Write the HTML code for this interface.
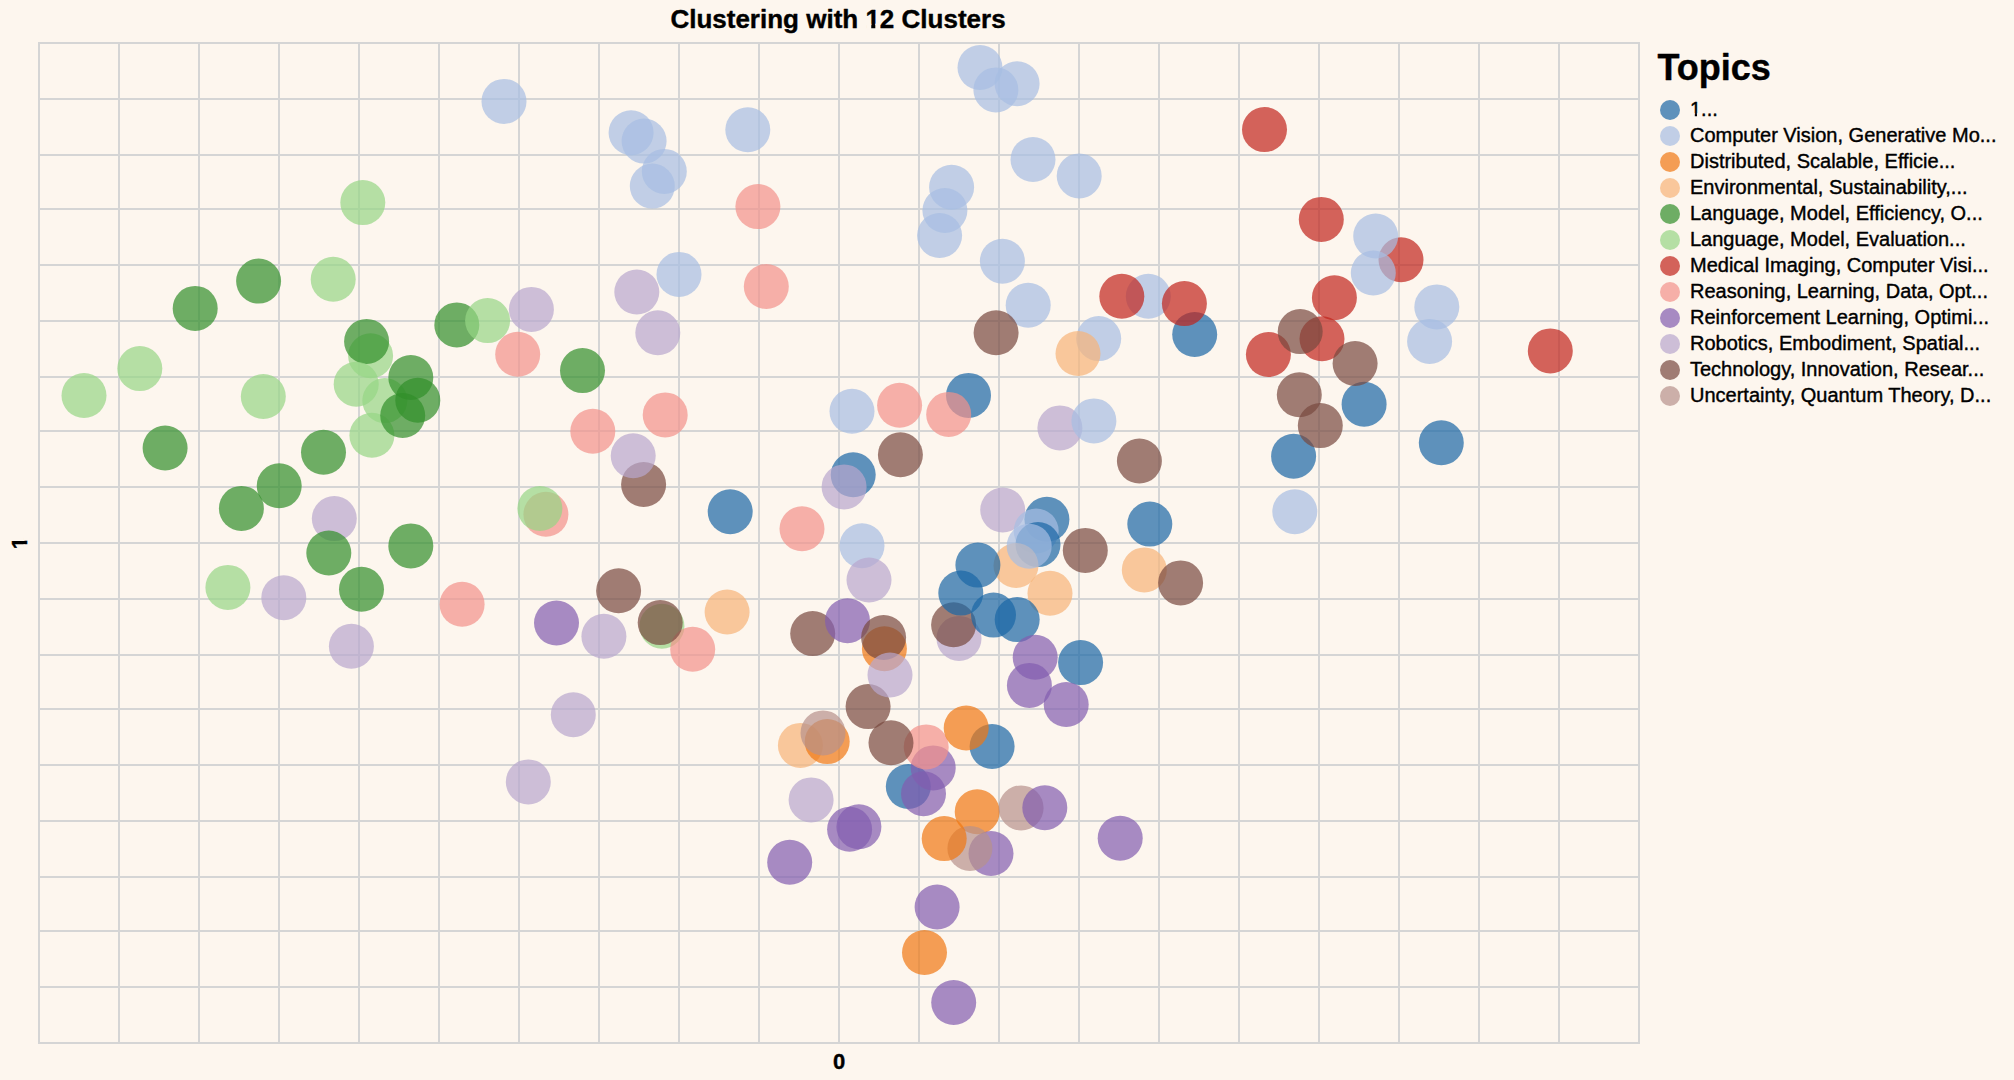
<!DOCTYPE html>
<html><head><meta charset="utf-8"><title>Clustering with 12 Clusters</title>
<style>
html,body{margin:0;padding:0;background:#fdf6ee;}
body{width:2014px;height:1080px;overflow:hidden;}
svg{display:block}
text{font-family:"Liberation Sans",sans-serif;fill:#000;stroke:#000;stroke-width:0.4px;stroke-linejoin:round}
</style></head><body>
<svg width="2014" height="1080" viewBox="0 0 2014 1080">
<rect width="2014" height="1080" fill="#fdf6ee"/>
<g stroke="#d5d5d5" stroke-width="2" fill="none">
<path d="M39 43V1043"/>
<path d="M119 43V1043"/>
<path d="M199 43V1043"/>
<path d="M279 43V1043"/>
<path d="M359 43V1043"/>
<path d="M439 43V1043"/>
<path d="M519 43V1043"/>
<path d="M599 43V1043"/>
<path d="M679 43V1043"/>
<path d="M759 43V1043"/>
<path d="M839 43V1043"/>
<path d="M919 43V1043"/>
<path d="M999 43V1043"/>
<path d="M1079 43V1043"/>
<path d="M1159 43V1043"/>
<path d="M1239 43V1043"/>
<path d="M1319 43V1043"/>
<path d="M1399 43V1043"/>
<path d="M1479 43V1043"/>
<path d="M1559 43V1043"/>
<path d="M1639 43V1043"/>
<path d="M39 43.00H1639"/>
<path d="M39 99.00H1639"/>
<path d="M39 155.00H1639"/>
<path d="M39 209.00H1639"/>
<path d="M39 265.00H1639"/>
<path d="M39 321.00H1639"/>
<path d="M39 377.00H1639"/>
<path d="M39 431.00H1639"/>
<path d="M39 487.00H1639"/>
<path d="M39 543.00H1639"/>
<path d="M39 599.00H1639"/>
<path d="M39 655.00H1639"/>
<path d="M39 709.00H1639"/>
<path d="M39 765.00H1639"/>
<path d="M39 821.00H1639"/>
<path d="M39 877.00H1639"/>
<path d="M39 931.00H1639"/>
<path d="M39 987.00H1639"/>
<path d="M39 1043.00H1639"/>
</g>
<g fill-opacity="0.7">
<circle cx="362.8" cy="202.6" r="22.5" fill="#96d584"/>
<circle cx="258.6" cy="281.1" r="22.5" fill="#318f2a"/>
<circle cx="333.2" cy="279.3" r="22.5" fill="#96d584"/>
<circle cx="195.2" cy="308.4" r="22.5" fill="#318f2a"/>
<circle cx="139.8" cy="368.6" r="22.5" fill="#96d584"/>
<circle cx="84" cy="395.5" r="22.5" fill="#96d584"/>
<circle cx="263.3" cy="396.5" r="22.5" fill="#96d584"/>
<circle cx="165.1" cy="448" r="22.5" fill="#318f2a"/>
<circle cx="323.5" cy="452.3" r="22.5" fill="#318f2a"/>
<circle cx="279.2" cy="485.8" r="22.5" fill="#318f2a"/>
<circle cx="241.4" cy="508.4" r="22.5" fill="#318f2a"/>
<circle cx="334.3" cy="518.6" r="22.5" fill="#b8a7cd"/>
<circle cx="328.8" cy="553" r="22.5" fill="#318f2a"/>
<circle cx="410.8" cy="545.9" r="22.5" fill="#318f2a"/>
<circle cx="370.6" cy="355.8" r="22.5" fill="#96d584"/>
<circle cx="366.6" cy="341.4" r="22.5" fill="#318f2a"/>
<circle cx="356.2" cy="384.2" r="22.5" fill="#96d584"/>
<circle cx="384.8" cy="400.6" r="22.5" fill="#96d584"/>
<circle cx="410.8" cy="377.5" r="22.5" fill="#318f2a"/>
<circle cx="417.8" cy="400.2" r="22.5" fill="#318f2a"/>
<circle cx="371.9" cy="435.3" r="22.5" fill="#96d584"/>
<circle cx="402.7" cy="415.5" r="22.5" fill="#318f2a"/>
<circle cx="227.9" cy="587.4" r="22.5" fill="#96d584"/>
<circle cx="283.8" cy="597.7" r="22.5" fill="#b8a7cd"/>
<circle cx="361.5" cy="589.3" r="22.5" fill="#318f2a"/>
<circle cx="351.4" cy="646.3" r="22.5" fill="#b8a7cd"/>
<circle cx="504" cy="101.4" r="22.5" fill="#a6bee3"/>
<circle cx="631.1" cy="132.7" r="22.5" fill="#a6bee3"/>
<circle cx="644.1" cy="141.1" r="22.5" fill="#a6bee3"/>
<circle cx="664.3" cy="171.4" r="22.5" fill="#a6bee3"/>
<circle cx="652.3" cy="186.1" r="22.5" fill="#a6bee3"/>
<circle cx="747.8" cy="129.8" r="22.5" fill="#a6bee3"/>
<circle cx="757.9" cy="206.6" r="22.5" fill="#f2928a"/>
<circle cx="766.3" cy="286.5" r="22.5" fill="#f2928a"/>
<circle cx="679" cy="274.4" r="22.5" fill="#a6bee3"/>
<circle cx="636.8" cy="292" r="22.5" fill="#b8a7cd"/>
<circle cx="531.4" cy="309.4" r="22.5" fill="#b8a7cd"/>
<circle cx="456.8" cy="324.9" r="22.5" fill="#318f2a"/>
<circle cx="487.6" cy="320.6" r="22.5" fill="#96d584"/>
<circle cx="517.7" cy="354.3" r="22.5" fill="#f2928a"/>
<circle cx="657.8" cy="332.8" r="22.5" fill="#b8a7cd"/>
<circle cx="582.5" cy="370.6" r="22.5" fill="#318f2a"/>
<circle cx="665.2" cy="414.9" r="22.5" fill="#f2928a"/>
<circle cx="592.8" cy="431.3" r="22.5" fill="#f2928a"/>
<circle cx="643.6" cy="484.5" r="22.5" fill="#78493e"/>
<circle cx="633.2" cy="455.8" r="22.5" fill="#b8a7cd"/>
<circle cx="545.9" cy="514.3" r="22.5" fill="#f2928a"/>
<circle cx="539.9" cy="508.5" r="22.5" fill="#96d584"/>
<circle cx="730.2" cy="511.7" r="22.5" fill="#1a67a5"/>
<circle cx="802" cy="528.8" r="22.5" fill="#f2928a"/>
<circle cx="462.1" cy="604.3" r="22.5" fill="#f2928a"/>
<circle cx="556.5" cy="623" r="22.5" fill="#825daf"/>
<circle cx="603.9" cy="636.3" r="22.5" fill="#b8a7cd"/>
<circle cx="618.6" cy="590.8" r="22.5" fill="#78493e"/>
<circle cx="661.9" cy="626.2" r="22.5" fill="#96d584"/>
<circle cx="692.7" cy="649.3" r="22.5" fill="#f2928a"/>
<circle cx="660.2" cy="622.6" r="22.5" fill="#78493e"/>
<circle cx="727.1" cy="612" r="22.5" fill="#f7b377"/>
<circle cx="812.7" cy="633.6" r="22.5" fill="#78493e"/>
<circle cx="573.3" cy="714.7" r="22.5" fill="#b8a7cd"/>
<circle cx="528.3" cy="781.9" r="22.5" fill="#b8a7cd"/>
<circle cx="980" cy="67.5" r="22.5" fill="#a6bee3"/>
<circle cx="995.9" cy="89.9" r="22.5" fill="#a6bee3"/>
<circle cx="1017.1" cy="83.7" r="22.5" fill="#a6bee3"/>
<circle cx="1033" cy="159.5" r="22.5" fill="#a6bee3"/>
<circle cx="1079.2" cy="175.9" r="22.5" fill="#a6bee3"/>
<circle cx="951.6" cy="187.2" r="22.5" fill="#a6bee3"/>
<circle cx="944.9" cy="210.5" r="22.5" fill="#a6bee3"/>
<circle cx="939.6" cy="235.5" r="22.5" fill="#a6bee3"/>
<circle cx="1002.4" cy="261.2" r="22.5" fill="#a6bee3"/>
<circle cx="1028.2" cy="305.2" r="22.5" fill="#a6bee3"/>
<circle cx="996.1" cy="332.8" r="22.5" fill="#78493e"/>
<circle cx="1148.3" cy="296.3" r="22.5" fill="#a6bee3"/>
<circle cx="1121.8" cy="296.3" r="22.5" fill="#c1231b"/>
<circle cx="1194.7" cy="334.5" r="22.5" fill="#1a67a5"/>
<circle cx="1184.4" cy="303.6" r="22.5" fill="#c1231b"/>
<circle cx="1098.7" cy="338.6" r="22.5" fill="#a6bee3"/>
<circle cx="1078" cy="353.5" r="22.5" fill="#f7b377"/>
<circle cx="968.5" cy="395.4" r="22.5" fill="#1a67a5"/>
<circle cx="948.7" cy="414.4" r="22.5" fill="#f2928a"/>
<circle cx="899.6" cy="405.3" r="22.5" fill="#f2928a"/>
<circle cx="852" cy="411.3" r="22.5" fill="#a6bee3"/>
<circle cx="900.4" cy="454.8" r="22.5" fill="#78493e"/>
<circle cx="853.2" cy="474.8" r="22.5" fill="#1a67a5"/>
<circle cx="844.1" cy="486.9" r="22.5" fill="#b8a7cd"/>
<circle cx="1059.9" cy="427.9" r="22.5" fill="#b8a7cd"/>
<circle cx="1093.9" cy="420.9" r="22.5" fill="#a6bee3"/>
<circle cx="1139.4" cy="461" r="22.5" fill="#78493e"/>
<circle cx="1002.7" cy="510" r="22.5" fill="#b8a7cd"/>
<circle cx="1046.9" cy="519.3" r="22.5" fill="#1a67a5"/>
<circle cx="1036.2" cy="531" r="22.5" fill="#a6bee3"/>
<circle cx="1038" cy="544.6" r="22.5" fill="#1a67a5"/>
<circle cx="1149.8" cy="524.1" r="22.5" fill="#1a67a5"/>
<circle cx="862" cy="545.7" r="22.5" fill="#a6bee3"/>
<circle cx="869" cy="580" r="22.5" fill="#b8a7cd"/>
<circle cx="847.5" cy="620.7" r="22.5" fill="#825daf"/>
<circle cx="884.4" cy="648.7" r="22.5" fill="#f07713"/>
<circle cx="883.6" cy="637.5" r="22.5" fill="#78493e"/>
<circle cx="868.1" cy="706.6" r="22.5" fill="#78493e"/>
<circle cx="890" cy="675" r="22.5" fill="#b8a7cd"/>
<circle cx="1016" cy="565.5" r="22.5" fill="#f7b377"/>
<circle cx="1029.2" cy="546.2" r="22.5" fill="#a6bee3"/>
<circle cx="1050" cy="593.3" r="22.5" fill="#f7b377"/>
<circle cx="977.9" cy="565.1" r="22.5" fill="#1a67a5"/>
<circle cx="959" cy="638.4" r="22.5" fill="#b8a7cd"/>
<circle cx="953.6" cy="624.8" r="22.5" fill="#78493e"/>
<circle cx="960.8" cy="593.1" r="22.5" fill="#1a67a5"/>
<circle cx="993.5" cy="615.1" r="22.5" fill="#1a67a5"/>
<circle cx="1017.2" cy="619.6" r="22.5" fill="#1a67a5"/>
<circle cx="1085.3" cy="550.4" r="22.5" fill="#78493e"/>
<circle cx="1035.2" cy="657.3" r="22.5" fill="#825daf"/>
<circle cx="1029.4" cy="685.4" r="22.5" fill="#825daf"/>
<circle cx="1080.6" cy="662.6" r="22.5" fill="#1a67a5"/>
<circle cx="1066.2" cy="704.5" r="22.5" fill="#825daf"/>
<circle cx="800.4" cy="745.4" r="22.5" fill="#f7b377"/>
<circle cx="827.2" cy="741.6" r="22.5" fill="#f07713"/>
<circle cx="823" cy="732.9" r="22.5" fill="#b6918b"/>
<circle cx="908.3" cy="786.5" r="22.5" fill="#1a67a5"/>
<circle cx="933.2" cy="767.9" r="22.5" fill="#825daf"/>
<circle cx="926.2" cy="746.9" r="22.5" fill="#f2928a"/>
<circle cx="891" cy="742.8" r="22.5" fill="#78493e"/>
<circle cx="923.5" cy="793.7" r="22.5" fill="#825daf"/>
<circle cx="992.1" cy="746.5" r="22.5" fill="#1a67a5"/>
<circle cx="966.2" cy="728" r="22.5" fill="#f07713"/>
<circle cx="811.1" cy="799.9" r="22.5" fill="#b8a7cd"/>
<circle cx="849.6" cy="829.3" r="22.5" fill="#825daf"/>
<circle cx="858.9" cy="826.8" r="22.5" fill="#825daf"/>
<circle cx="789.7" cy="862.3" r="22.5" fill="#825daf"/>
<circle cx="977.2" cy="811.8" r="22.5" fill="#f07713"/>
<circle cx="991" cy="853.5" r="22.5" fill="#825daf"/>
<circle cx="969.9" cy="848.4" r="22.5" fill="#b6918b"/>
<circle cx="944.2" cy="838.6" r="22.5" fill="#f07713"/>
<circle cx="1021.1" cy="807.9" r="22.5" fill="#b6918b"/>
<circle cx="1044.8" cy="807.7" r="22.5" fill="#825daf"/>
<circle cx="937.1" cy="907" r="22.5" fill="#825daf"/>
<circle cx="924.5" cy="952.5" r="22.5" fill="#f07713"/>
<circle cx="953.7" cy="1002.5" r="22.5" fill="#825daf"/>
<circle cx="1120.2" cy="838.2" r="22.5" fill="#825daf"/>
<circle cx="1144.3" cy="569.9" r="22.5" fill="#f7b377"/>
<circle cx="1180.6" cy="582.9" r="22.5" fill="#78493e"/>
<circle cx="1293.6" cy="456.2" r="22.5" fill="#1a67a5"/>
<circle cx="1320.3" cy="425.6" r="22.5" fill="#78493e"/>
<circle cx="1299.3" cy="394.8" r="22.5" fill="#78493e"/>
<circle cx="1364.1" cy="404.2" r="22.5" fill="#1a67a5"/>
<circle cx="1441.3" cy="442.8" r="22.5" fill="#1a67a5"/>
<circle cx="1294.8" cy="511.7" r="22.5" fill="#a6bee3"/>
<circle cx="1264.5" cy="129.6" r="22.5" fill="#c1231b"/>
<circle cx="1321.3" cy="219.4" r="22.5" fill="#c1231b"/>
<circle cx="1401" cy="259.8" r="22.5" fill="#c1231b"/>
<circle cx="1375.7" cy="236" r="22.5" fill="#a6bee3"/>
<circle cx="1373.3" cy="273" r="22.5" fill="#a6bee3"/>
<circle cx="1334.4" cy="297.7" r="22.5" fill="#c1231b"/>
<circle cx="1436.8" cy="306.9" r="22.5" fill="#a6bee3"/>
<circle cx="1429.6" cy="341.4" r="22.5" fill="#a6bee3"/>
<circle cx="1322" cy="338.8" r="22.5" fill="#c1231b"/>
<circle cx="1268.4" cy="354.5" r="22.5" fill="#c1231b"/>
<circle cx="1300.2" cy="331.6" r="22.5" fill="#78493e"/>
<circle cx="1355.1" cy="363.5" r="22.5" fill="#78493e"/>
<circle cx="1550.3" cy="350.9" r="22.5" fill="#c1231b"/>
</g>
<rect x="39" y="43" width="1600" height="1000" fill="none" stroke="#d5d5d5" stroke-width="2"/>
<text x="838" y="27.5" text-anchor="middle" font-size="26" font-weight="bold">Clustering with 12 Clusters</text>
<text x="839" y="1069.3" text-anchor="middle" font-size="22" font-weight="bold">0</text>
<text transform="translate(27,543) rotate(-90)" text-anchor="middle" font-size="22" font-weight="bold">1</text>
<text x="1657.5" y="80" font-size="36" font-weight="bold">Topics</text>
<circle cx="1670" cy="110" r="10" fill="#1a67a5" fill-opacity="0.7"/>
<text x="1690" y="116" font-size="20">1...</text>
<circle cx="1670" cy="136" r="10" fill="#a6bee3" fill-opacity="0.7"/>
<text x="1690" y="142" font-size="20">Computer Vision, Generative Mo...</text>
<circle cx="1670" cy="162" r="10" fill="#f07713" fill-opacity="0.7"/>
<text x="1690" y="168" font-size="20">Distributed, Scalable, Efficie...</text>
<circle cx="1670" cy="188" r="10" fill="#f7b377" fill-opacity="0.7"/>
<text x="1690" y="194" font-size="20">Environmental, Sustainability,...</text>
<circle cx="1670" cy="214" r="10" fill="#318f2a" fill-opacity="0.7"/>
<text x="1690" y="220" font-size="20">Language, Model, Efficiency, O...</text>
<circle cx="1670" cy="240" r="10" fill="#96d584" fill-opacity="0.7"/>
<text x="1690" y="246" font-size="20">Language, Model, Evaluation...</text>
<circle cx="1670" cy="266" r="10" fill="#c1231b" fill-opacity="0.7"/>
<text x="1690" y="272" font-size="20">Medical Imaging, Computer Visi...</text>
<circle cx="1670" cy="292" r="10" fill="#f2928a" fill-opacity="0.7"/>
<text x="1690" y="298" font-size="20">Reasoning, Learning, Data, Opt...</text>
<circle cx="1670" cy="318" r="10" fill="#825daf" fill-opacity="0.7"/>
<text x="1690" y="324" font-size="20">Reinforcement Learning, Optimi...</text>
<circle cx="1670" cy="344" r="10" fill="#b8a7cd" fill-opacity="0.7"/>
<text x="1690" y="350" font-size="20">Robotics, Embodiment, Spatial...</text>
<circle cx="1670" cy="370" r="10" fill="#78493e" fill-opacity="0.7"/>
<text x="1690" y="376" font-size="20">Technology, Innovation, Resear...</text>
<circle cx="1670" cy="396" r="10" fill="#b6918b" fill-opacity="0.7"/>
<text x="1690" y="402" font-size="20">Uncertainty, Quantum Theory, D...</text>
<g fill="#fdf6ee"><rect x="866.07" y="23.70" width="5.17" height="6.00"/><rect x="875.30" y="23.70" width="4.70" height="6.00"/><rect x="1690.54" y="113.26" width="4.26" height="4.94"/><rect x="1697.02" y="113.26" width="4.06" height="4.94"/></g>
<g fill="#fdf6ee" transform="translate(27,543) rotate(-90)"><rect x="-5.72" y="-3.40" width="4.50" height="5.60"/><rect x="2.28" y="-3.40" width="4.09" height="5.60"/></g>
</svg></body></html>
